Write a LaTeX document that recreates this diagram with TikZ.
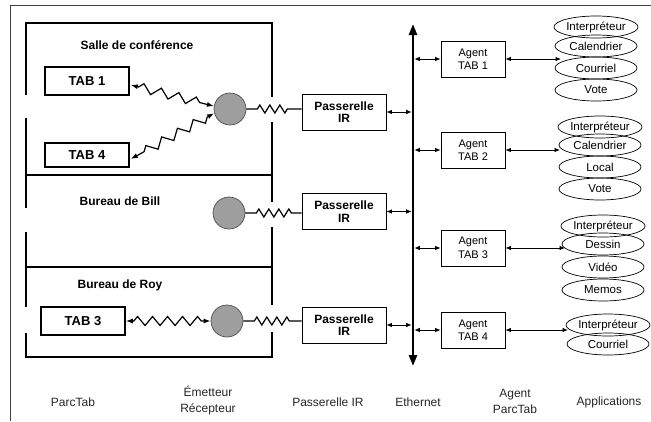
\documentclass[tikz,border=0pt]{standalone}
\usepackage{fontspec}
\setmainfont{Liberation Sans}
\usetikzlibrary{arrows.meta,decorations.pathmorphing,shapes.geometric,calc}
\begin{document}
\begin{tikzpicture}[x=1pt,y=-1pt,
  wall/.style={line width=1.8pt},
  tabbox/.style={draw, line width=1.6pt, minimum width=84pt, inner sep=0pt, font=\fontsize{13}{15}\selectfont\bfseries},
  gwbox/.style={draw, line width=0.8pt, minimum width=84pt, minimum height=36pt, inner sep=0pt, align=center, font=\fontsize{12}{12.5}\selectfont\bfseries},
  agbox/.style={draw, line width=0.8pt, minimum width=64pt, minimum height=36pt, inner sep=0pt, align=center, font=\fontsize{11}{13.5}\selectfont},
  app/.style={draw, ellipse, line width=0.7pt, minimum width=82pt, minimum height=22pt, inner sep=0pt, font=\fontsize{11.5}{12}\selectfont},
  ir/.style={circle, draw=black!70, fill=black!38, line width=0.7pt, minimum size=32pt, inner sep=0pt},
  roomlbl/.style={font=\fontsize{12}{14}\selectfont\bfseries},
  bottomlbl/.style={align=center, text=black!85, font=\fontsize{12}{16}\selectfont},
  dbl/.style={{Latex[length=5.5pt,width=4.5pt]}-{Latex[length=5.5pt,width=4.5pt]}, line width=0.8pt},
  wireless/.style={{Latex[length=7pt,width=5pt]}-{Latex[length=7pt,width=5pt]}, line width=1.2pt, decorate, decoration={zigzag, segment length=#1, amplitude=4.5pt, pre length=8pt, post length=8pt}},
  wireless/.default=15pt,
  wired/.style={line width=1.2pt, decorate, decoration={zigzag, segment length=10pt, amplitude=4pt, pre length=11pt, post length=10pt}},
]
\useasboundingbox (0,0) rectangle (651,421);
% outer frame
\draw[line width=1pt, black!75] (10,421) -- (10,5) -- (651,5);
% walls
\draw[wall] (26,95) -- (26,23) -- (272,23) -- (272,97);
\draw[wall] (26,118) -- (26,208);
\draw[wall] (26,232) -- (26,307);
\draw[wall] (26,333) -- (26,357) -- (272,357) -- (272,332);
\draw[wall] (272,122) -- (272,202);
\draw[wall] (272,227) -- (272,305);
\draw[wall] (26,175) -- (272,175);
\draw[wall] (26,267) -- (272,267);
% room labels
\node[roomlbl] (lsalle) at (137,45) {Salle de conférence};
\node[roomlbl] (lbill) at (120,201) {Bureau de Bill};
\node[roomlbl] (lroy) at (120,285) {Bureau de Roy};
% tabs
\node[tabbox, minimum height=28pt] (tab1) at (87,81) {TAB 1};
\node[tabbox, minimum height=24pt] (tab4) at (87,155) {TAB 4};
\node[tabbox, minimum height=28pt] (tab3) at (83,321) {TAB 3};
% IR transceivers
\node[ir] (c1) at (230,109) {};
\node[ir] (c2) at (229,213) {};
\node[ir] (c3) at (227,321) {};
% gateways
\node[gwbox] (p1) at (344,112) {Passerelle\\IR};
\node[gwbox] (p2) at (344,211.5) {Passerelle\\IR};
\node[gwbox] (p3) at (344,325) {Passerelle\\IR};
% ethernet
\coordinate (etop) at (413,24);
\coordinate (ebot) at (413,366);
\draw[line width=2.6pt, {Triangle[length=11pt,width=8pt]}-{Triangle[length=11pt,width=8pt]}] (etop) -- (ebot);
% agents
\node[agbox] (a1) at (473,59) {Agent\\TAB 1};
\node[agbox] (a2) at (473,150) {Agent\\TAB 2};
\node[agbox] (a3) at (473,248) {Agent\\TAB 3};
\node[agbox] (a4) at (473,330) {Agent\\TAB 4};
% applications
\node[app] (e11) at (596,27) {Interpréteur};
\node[app] (e12) at (596,46) {Calendrier};
\node[app] (e13) at (596,68) {Courriel};
\node[app] (e14) at (596,90) {Vote};
\node[app] (e21) at (600,127) {Interpréteur};
\node[app] (e22) at (600,145) {Calendrier};
\node[app] (e23) at (600,167) {Local};
\node[app] (e24) at (600,189) {Vote};
\node[app] (e31) at (603,226) {Interpréteur};
\node[app] (e32) at (603,244) {Dessin};
\node[app] (e33) at (603,267) {Vidéo};
\node[app] (e34) at (603,290) {Memos};
\node[app] (e41) at (608,325) {Interpréteur};
\node[app] (e42) at (608,344) {Courriel};
\coordinate (t1) at (561,59);
\coordinate (t2) at (560,150);
\coordinate (t3) at (565,248);
\coordinate (t4) at (568,330);
% wireless links
\draw[wireless=18pt] ($(tab1.east)+(1,4)$) -- (c1.170);
\draw[wireless=18pt] (c1.195) -- ($(tab4.east)+(1,4)$);
\draw[wireless] (tab3.east) -- (c3.west);
% wired links
\draw[wired] (c1.east) -- (c1.east -| p1.west);
\draw[wired] (c2.east) -- (c2.east -| p2.west);
\draw[wired] (c3.east) -- (c3.east -| p3.west);
% gateway - ethernet
\draw[dbl, shorten >=1.3pt] (p1.east) -- (p1.east -| etop);
\draw[dbl, shorten >=1.3pt] (p2.east) -- (p2.east -| etop);
\draw[dbl, shorten >=1.3pt] (p3.east) -- (p3.east -| etop);
% ethernet - agents
\draw[dbl, shorten <=1.3pt] (a1.west -| etop) -- (a1.west);
\draw[dbl, shorten <=1.3pt] (a2.west -| etop) -- (a2.west);
\draw[dbl, shorten <=1.3pt] (a3.west -| etop) -- (a3.west);
\draw[dbl, shorten <=1.3pt] (a4.west -| etop) -- (a4.west);
% agents - applications
\draw[dbl] (a1.east) -- (t1);
\draw[dbl] (a2.east) -- (t2);
\draw[dbl] (a3.east) -- (t3);
\draw[dbl] (a4.east) -- (t4);
% bottom labels
\node[bottomlbl] (bParc) at (73,402) {ParcTab};
\node[bottomlbl] (bEm) at (208,401) {Émetteur\\Récepteur};
\node[bottomlbl] (bPas) at (328,402) {Passerelle IR};
\node[bottomlbl] (bEth) at (418,402) {Ethernet};
\node[bottomlbl] (bAg) at (515,401) {Agent\\ParcTab};
\node[bottomlbl] (bApp) at (609,402) {Applications};
\end{tikzpicture}
\end{document}
